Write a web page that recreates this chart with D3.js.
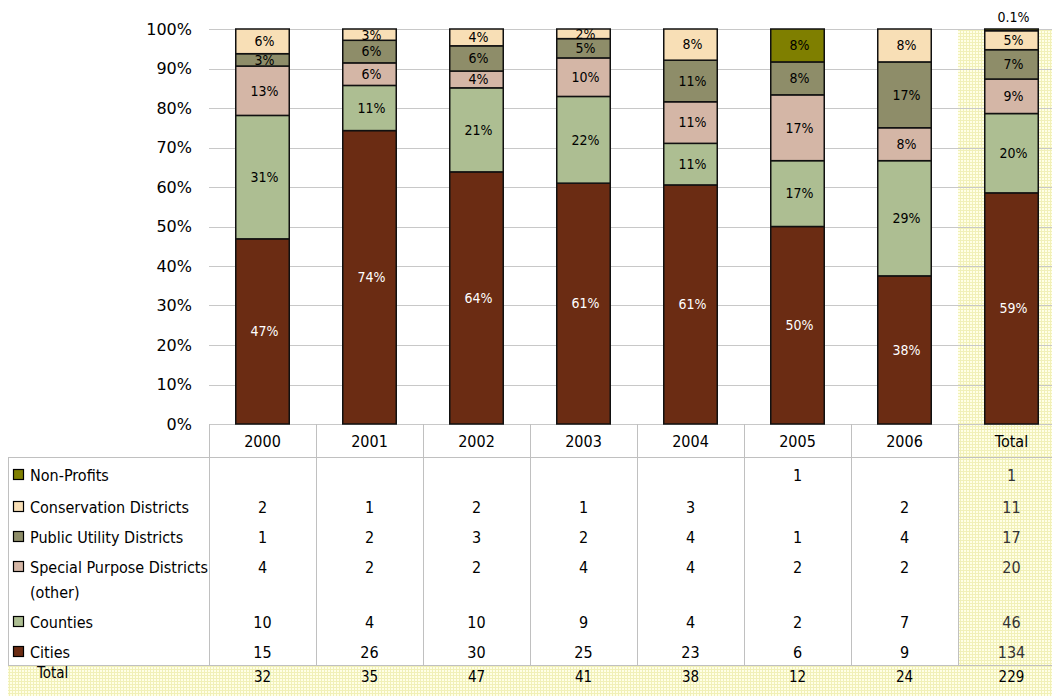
<!DOCTYPE html>
<html>
<head>
<meta charset="utf-8">
<script src="https://cdn.jsdelivr.net/npm/d3@7"></script>
<style>
  body { margin: 0; background: #fff; }
  svg { display: block; }
</style>
</head>
<body>
<svg id="chart"></svg>
<script>
// columns and series (bottom to top)
const columns = ["2000", "2001", "2002", "2003", "2004", "2005", "2006", "Total"];
const seriesNames = ["Cities", "Counties", "Special Purpose Districts (other)",
  "Public Utility Districts", "Conservation Districts", "Non-Profits"];
const seriesColors = ["#6b2c13", "#adbe92", "#d4b6a6", "#8e8d69", "#f8dfb6", "#7f7f00"];

// counts per column (null = blank cell)
const cities       = [15, 26, 30, 25, 23, 6, 9, 134];
const counties     = [10, 4, 10, 9, 4, 2, 7, 46];
const special      = [4, 2, 2, 4, 4, 2, 2, 20];
const utility      = [1, 2, 3, 2, 4, 1, 4, 17];
const conservation = [2, 1, 2, 1, 3, null, 2, 11];
const nonProfits   = [null, null, null, null, null, 1, null, 1];
const totals       = [32, 35, 47, 41, 38, 12, 24, 229];
const yTicks = [0, 10, 20, 30, 40, 50, 60, 70, 80, 90, 100];

// label shown in the source where rounding differs
const labelOverrides = { "Non-Profits|Total": "0.1%" };

const seriesValues = [cities, counties, special, utility, conservation, nonProfits];

const W = 1052, H = 696;
const svg = d3.select("#chart").attr("width", W).attr("height", H);

const defs = svg.append("defs");
const pat = defs.append("pattern")
  .attr("id", "hatch").attr("patternUnits", "userSpaceOnUse")
  .attr("width", 3).attr("height", 3);
pat.append("rect").attr("width", 3).attr("height", 3).attr("fill", "#ffffe6");
pat.append("path").attr("d", "M0,0.5H3M0.5,0V3")
  .attr("stroke", "#f1f0b8").attr("stroke-width", 1);

const plotLeft = 209, step = 107;
const x = d3.scaleBand().domain(columns)
  .range([plotLeft, plotLeft + step * columns.length])
  .paddingInner(0.5).paddingOuter(0.25);
const y = d3.scaleLinear().domain([0, 100]).range([424, 29]);

const labelFont = "'DejaVu Sans Condensed', 'DejaVu Sans', sans-serif";
const tableFont = "'Liberation Sans Narrow', 'DejaVu Sans Condensed', sans-serif";

// highlighted Total column and Total row
const totalLeft = x("Total") - x.step() * x.paddingInner() / 2;
svg.append("rect").attr("x", totalLeft).attr("y", y(100))
  .attr("width", W - totalLeft).attr("height", 665 - y(100)).attr("fill", "url(#hatch)");
svg.append("rect").attr("x", 8).attr("y", 665)
  .attr("width", W - 8).attr("height", H - 665).attr("fill", "url(#hatch)");

// gridlines
svg.append("g").selectAll("line").data(yTicks).join("line")
  .attr("x1", plotLeft).attr("x2", W)
  .attr("y1", d => Math.round(y(d)) + 0.5).attr("y2", d => Math.round(y(d)) + 0.5)
  .attr("stroke", "#c8c8c8").attr("stroke-width", 1);

// y axis labels
const yAxis = svg.append("g").attr("transform", `translate(${plotLeft - 14},0)`)
  .call(d3.axisLeft(y).tickValues(yTicks).tickFormat(d => d + "%").tickSize(0));
yAxis.select(".domain").remove();
yAxis.selectAll("text").attr("font-family", "'DejaVu Sans', sans-serif")
  .attr("font-size", 16).attr("fill", "#000");

// stacked bars
const rows = columns.map((c, i) => {
  const r = { col: c, total: totals[i] };
  seriesNames.forEach((s, k) => { r[s] = seriesValues[k][i] || 0; });
  return r;
});
const stacked = d3.stack().keys(seriesNames)(rows);

const bars = svg.append("g");
stacked.forEach((layer, k) => {
  const g = bars.append("g");
  layer.forEach(seg => {
    const d = seg.data;
    const v = d[layer.key];
    if (!v) return;
    const y0 = y(seg[0] / d.total * 100), y1 = y(seg[1] / d.total * 100);
    g.append("rect")
      .attr("x", x(d.col)).attr("y", y1)
      .attr("width", x.bandwidth()).attr("height", y0 - y1)
      .attr("fill", seriesColors[k]).attr("stroke", "#111").attr("stroke-width", 1.5);
    const pct = v / d.total * 100;
    const label = labelOverrides[layer.key + "|" + d.col] || d3.format(".0f")(pct) + "%";
    const small = (y0 - y1) < 9;
    g.append("text")
      .attr("x", x(d.col) + x.bandwidth() / 2 + 2)
      .attr("y", small ? y(100) - 12 : (y0 + y1) / 2)
      .attr("dy", "0.35em").attr("text-anchor", "middle")
      .attr("font-family", labelFont).attr("font-size", 14)
      .attr("fill", k === 0 ? "#fff" : "#000")
      .text(label);
  });
});

// data table
const grid = "#c0c0c0";
const table = svg.append("g");
const tableTop = 457, tableBottom = 665;
table.append("line").attr("x1", 8).attr("x2", W).attr("y1", tableTop + 0.5).attr("y2", tableTop + 0.5)
  .attr("stroke", grid);
table.append("line").attr("x1", 8).attr("x2", W).attr("y1", tableBottom + 0.5).attr("y2", tableBottom + 0.5)
  .attr("stroke", grid);
table.append("line").attr("x1", 8.5).attr("x2", 8.5).attr("y1", tableTop).attr("y2", tableBottom)
  .attr("stroke", grid);
const colEdges = columns.map(c => x(c) - x.step() * x.paddingInner() / 2);
table.selectAll(".vline").data(colEdges).join("line")
  .attr("x1", d => Math.round(d) + 0.5).attr("x2", d => Math.round(d) + 0.5)
  .attr("y1", 424).attr("y2", tableBottom).attr("stroke", grid);

const cx = c => x(c) + x.bandwidth() / 2;

// header
table.selectAll(".hdr").data(columns).join("text")
  .attr("x", cx).attr("y", 441).attr("dy", "0.35em").attr("text-anchor", "middle")
  .attr("font-family", tableFont).attr("font-size", 16).attr("fill", "#000")
  .text(d => d);

// rows top to bottom
const rowOrder = [5, 4, 3, 2, 1, 0];
const rowY = [475, 507, 537, 567, 622, 652];
rowOrder.forEach((k, r) => {
  const ry = rowY[r];
  table.append("rect").attr("x", 13.5).attr("y", ry - 5.5).attr("width", 10).attr("height", 10)
    .attr("fill", seriesColors[k]).attr("stroke", "#000").attr("stroke-width", 1.2);
  const name = seriesNames[k];
  const t = table.append("text").attr("x", 30).attr("y", ry).attr("dy", "0.35em")
    .attr("font-family", tableFont).attr("font-size", 16).attr("fill", "#000");
  if (name.includes("(other)")) {
    t.text("Special Purpose Districts");
    table.append("text").attr("x", 30).attr("y", ry + 25).attr("dy", "0.35em")
      .attr("font-family", tableFont).attr("font-size", 16).attr("fill", "#000").text("(other)");
  } else {
    t.text(name);
  }
  columns.forEach((c, i) => {
    const v = seriesValues[k][i];
    if (v == null) return;
    table.append("text").attr("x", cx(c)).attr("y", ry).attr("dy", "0.35em")
      .attr("text-anchor", "middle").attr("font-family", tableFont).attr("font-size", 16)
      .attr("fill", c === "Total" ? "#333" : "#000").text(v);
  });
});

// total row
table.append("text").attr("x", 37).attr("y", 673).attr("dy", "0.35em")
  .attr("font-family", tableFont).attr("font-size", 15).attr("fill", "#000").text("Total");
columns.forEach((c, i) => {
  table.append("text").attr("x", cx(c)).attr("y", 677).attr("dy", "0.35em")
    .attr("text-anchor", "middle").attr("font-family", tableFont).attr("font-size", 15)
    .attr("fill", "#000").text(totals[i]);
});
</script>
</body>
</html>
